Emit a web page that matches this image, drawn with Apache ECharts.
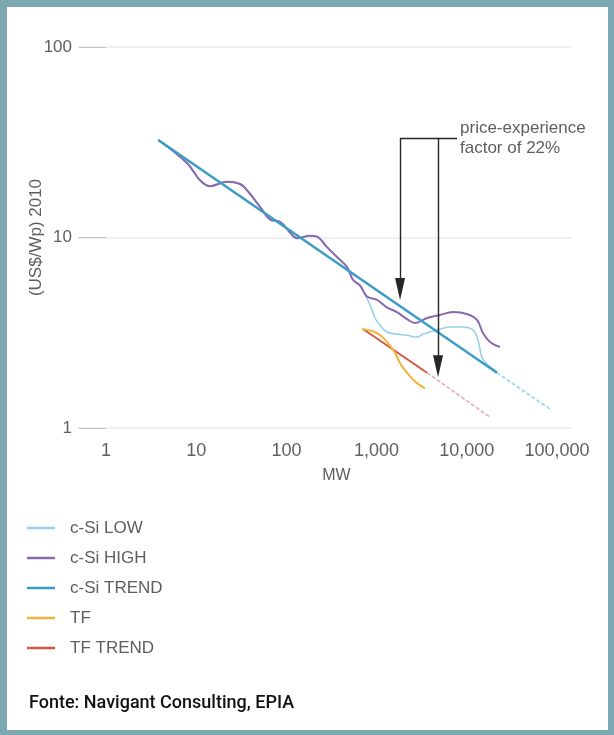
<!DOCTYPE html>
<html>
<head>
<meta charset="utf-8">
<script src="https://cdn.jsdelivr.net/npm/echarts@6/dist/echarts.min.js"></script>
<style>
  html, body { margin: 0; padding: 0; background: #fff; }
  #wrap { position: relative; width: 614px; height: 735px; }
  #chart { position: absolute; left: 0; top: 0; width: 614px; height: 735px; }
  #frame { position: absolute; left: 0; top: 0; width: 614px; height: 735px; box-sizing: border-box;
           border-style: solid; border-color: #7ba8b1; border-width: 7px 6px 5px 7px; pointer-events: none; }
</style>
</head>
<body>
<div id="wrap"><div id="chart"></div><div id="frame"></div></div>
<script>
// ---- data ----
const xTickLabels = ['1', '10', '100', '1,000', '10,000', '100,000'];
const yTickLabels = ['1', '10', '100'];

const cSiHighMW    = [3.8, 7.9, 11, 14.2, 21.9, 30.6, 36.6, 51, 66, 85, 110, 131, 183, 218, 282, 364, 470, 547, 654, 783, 1010, 1300, 1680, 2170, 2670, 3620, 5050, 7030, 10000, 13000, 15100, 18100, 23300];
const cSiHighPrice = [32.5, 24.6, 20.0, 18.6, 19.6, 19.1, 17.7, 14.5, 12.4, 12.1, 10.6, 9.9, 10.2, 10.1, 8.9, 7.9, 7.0, 6.0, 5.6, 4.9, 4.7, 4.3, 4.06, 3.73, 3.56, 3.78, 3.92, 4.06, 3.97, 3.69, 3.15, 2.83, 2.66];

const cSiLowMW     = [3.8, 7.9, 11, 14.2, 21.9, 30.6, 36.6, 51, 66, 85, 110, 131, 183, 218, 282, 364, 470, 547, 654, 845, 960, 1090, 1300, 1680, 2170, 2800, 3270, 4670, 6510, 9080, 11700, 13300, 14700, 16700, 21600];
const cSiLowPrice  = [32.5, 24.6, 20.0, 18.6, 19.6, 19.1, 17.7, 14.5, 12.4, 12.1, 10.6, 9.9, 10.2, 10.1, 8.9, 7.9, 7.0, 6.0, 5.6, 4.42, 3.78, 3.47, 3.19, 3.11, 3.07, 3.0, 3.11, 3.27, 3.39, 3.39, 3.27, 2.90, 2.36, 2.17, 1.97];

const cSiTrendMW       = [3.8, 21600];
const cSiTrendPrice    = [32.5, 1.95];
const cSiTrendExtMW    = [21600, 87000];
const cSiTrendExtPrice = [1.95, 1.24];

const tfMW    = [689, 889, 1090, 1340, 1600, 1820, 2170, 2800, 3440];
const tfPrice = [3.31, 3.23, 3.08, 2.79, 2.48, 2.19, 1.95, 1.72, 1.62];

const tfTrendMW       = [707, 3620];
const tfTrendPrice    = [3.31, 1.95];
const tfTrendExtMW    = [3620, 18100];
const tfTrendExtPrice = [1.95, 1.14];

// annotation (price-experience factor arrows), in data units
const arrowMW       = [1820, 4800];
const arrowTopPrice = 33.3;
const arrowEndPrice = [5.37, 2.11];
const barEndMW      = 7790;
const annotationText = 'price-experience\nfactor of 22%';

const seriesNames = ['c-Si LOW', 'c-Si HIGH', 'c-Si TREND', 'TF', 'TF TREND'];
const footer = 'Fonte: Navigant Consulting, EPIA';

function zip(xs, ys) { return xs.map((x, i) => [x, ys[i]]); }

const gray = '#5e5e5e';
const font = '"Liberation Sans", Arial, sans-serif';

const chart = echarts.init(document.getElementById('chart'), null, { renderer: 'canvas' });

const option = {
  animation: false,
  backgroundColor: '#fff',
  grid: [
    { left: 106, right: 57, top: 47, bottom: 307 },
    { left: 78, right: 42, top: 47, bottom: 307 }
  ],
  xAxis: [
    {
      type: 'log', gridIndex: 0, min: 1, max: 100000, logBase: 10,
      axisLine: { show: false }, axisTick: { show: false }, splitLine: { show: false },
      axisLabel: {
        margin: 14, color: gray, fontSize: 18, fontFamily: font,
        formatter: v => xTickLabels[Math.round(Math.log10(v))]
      },
      name: 'MW', nameLocation: 'middle', nameGap: 40, nameMoveOverlap: false,
      nameTextStyle: { color: gray, fontSize: 16, fontFamily: font, padding: [0, 0, 0, 10] }
    },
    { type: 'value', gridIndex: 1, min: 0, max: 1, show: false }
  ],
  yAxis: [
    {
      type: 'log', gridIndex: 0, min: 1, max: 100, logBase: 10,
      axisLine: { show: false },
      axisTick: { show: true, length: 27, lineStyle: { color: '#c4c4c4', width: 1 } },
      splitLine: { show: false },
      axisLabel: {
        margin: 34, color: gray, fontSize: 17, fontFamily: font,
        formatter: v => yTickLabels[Math.round(Math.log10(v))]
      },
      name: '(US$/Wp) 2010', nameLocation: 'middle', nameGap: 61, nameMoveOverlap: false,
      nameTextStyle: { color: gray, fontSize: 17, fontFamily: font }
    },
    {
      type: 'log', gridIndex: 1, min: 1, max: 100, logBase: 10,
      axisLine: { show: false }, axisTick: { show: false }, axisLabel: { show: false },
      splitLine: { show: true, lineStyle: { color: '#ebebeb', width: 1.5 } }
    }
  ],
  legend: {
    orient: 'vertical', left: 27, top: 518, padding: 0,
    data: seriesNames,
    itemWidth: 38, itemHeight: 20, itemGap: 10,
    textStyle: { color: gray, fontSize: 17, fontFamily: font, lineHeight: 20 },
    icon: 'path://M0,8.8 L28,8.8 L28,11.2 L0,11.2 Z M38,0 L38.01,0 L38.01,0.01 Z M38,20 L38.01,20 L38.01,19.99 Z'
  },
  graphic: [
    { type: 'text', left: 29, top: 694,
      style: { text: footer, fill: '#111', font: '500 18px Roboto, sans-serif' } }
  ],
  series: [
    {
      name: 'c-Si LOW', type: 'line', xAxisIndex: 0, yAxisIndex: 0,
      data: zip(cSiLowMW, cSiLowPrice), smooth: 0.4, showSymbol: false,
      lineStyle: { color: '#95d2ea', width: 1.6 }, itemStyle: { color: '#95d2ea' }, z: 2
    },
    {
      name: 'c-Si HIGH', type: 'line', xAxisIndex: 0, yAxisIndex: 0,
      data: zip(cSiHighMW, cSiHighPrice), smooth: 0.4, showSymbol: false,
      lineStyle: { color: '#8a68ad', width: 2 }, itemStyle: { color: '#8a68ad' }, z: 3
    },
    {
      name: 'c-Si TREND', type: 'line', xAxisIndex: 0, yAxisIndex: 0,
      data: zip(cSiTrendMW, cSiTrendPrice), showSymbol: false,
      lineStyle: { color: '#3b9dc6', width: 2.5 }, itemStyle: { color: '#3b9dc6' }, z: 4,
      markLine: {
        silent: true, animation: false, symbol: ['none', 'none'],
        lineStyle: { color: '#262626', width: 1.4, type: 'solid' },
        label: { show: false },
        data: [
          [
            { coord: [arrowMW[0], arrowTopPrice], symbol: 'none' },
            { coord: [arrowMW[0], arrowEndPrice[0]], symbol: 'triangle', symbolSize: [10, 22] }
          ],
          [
            { coord: [arrowMW[1], arrowTopPrice], symbol: 'none' },
            { coord: [arrowMW[1], arrowEndPrice[1]], symbol: 'triangle', symbolSize: [10, 22] }
          ],
          [
            { coord: [arrowMW[0], arrowTopPrice], symbol: 'none' },
            { coord: [barEndMW, arrowTopPrice], symbol: 'none',
              label: { show: true, position: 'end', formatter: annotationText, color: gray,
                       fontSize: 17, fontFamily: font, lineHeight: 20, distance: 3, align: 'left',
                       padding: [0, 0, 8, 0] } }
          ]
        ]
      }
    },
    {
      name: 'c-Si TREND ext', type: 'line', xAxisIndex: 0, yAxisIndex: 0,
      data: zip(cSiTrendExtMW, cSiTrendExtPrice), showSymbol: false,
      lineStyle: { color: '#a9d9ec', width: 2, type: [4, 2] }, z: 1
    },
    {
      name: 'TF', type: 'line', xAxisIndex: 0, yAxisIndex: 0,
      data: zip(tfMW, tfPrice), smooth: 0.4, showSymbol: false,
      lineStyle: { color: '#f2b33c', width: 2 }, itemStyle: { color: '#f2b33c' }, z: 3
    },
    {
      name: 'TF TREND', type: 'line', xAxisIndex: 0, yAxisIndex: 0,
      data: zip(tfTrendMW, tfTrendPrice), showSymbol: false,
      lineStyle: { color: '#d4573c', width: 2 }, itemStyle: { color: '#d4573c' }, z: 2
    },
    {
      name: 'TF TREND ext', type: 'line', xAxisIndex: 0, yAxisIndex: 0,
      data: zip(tfTrendExtMW, tfTrendExtPrice), showSymbol: false,
      lineStyle: { color: '#eaa9bf', width: 1.6, type: [4, 2] }, z: 1
    }
  ]
};
chart.setOption(option);
</script>
</body>
</html>
